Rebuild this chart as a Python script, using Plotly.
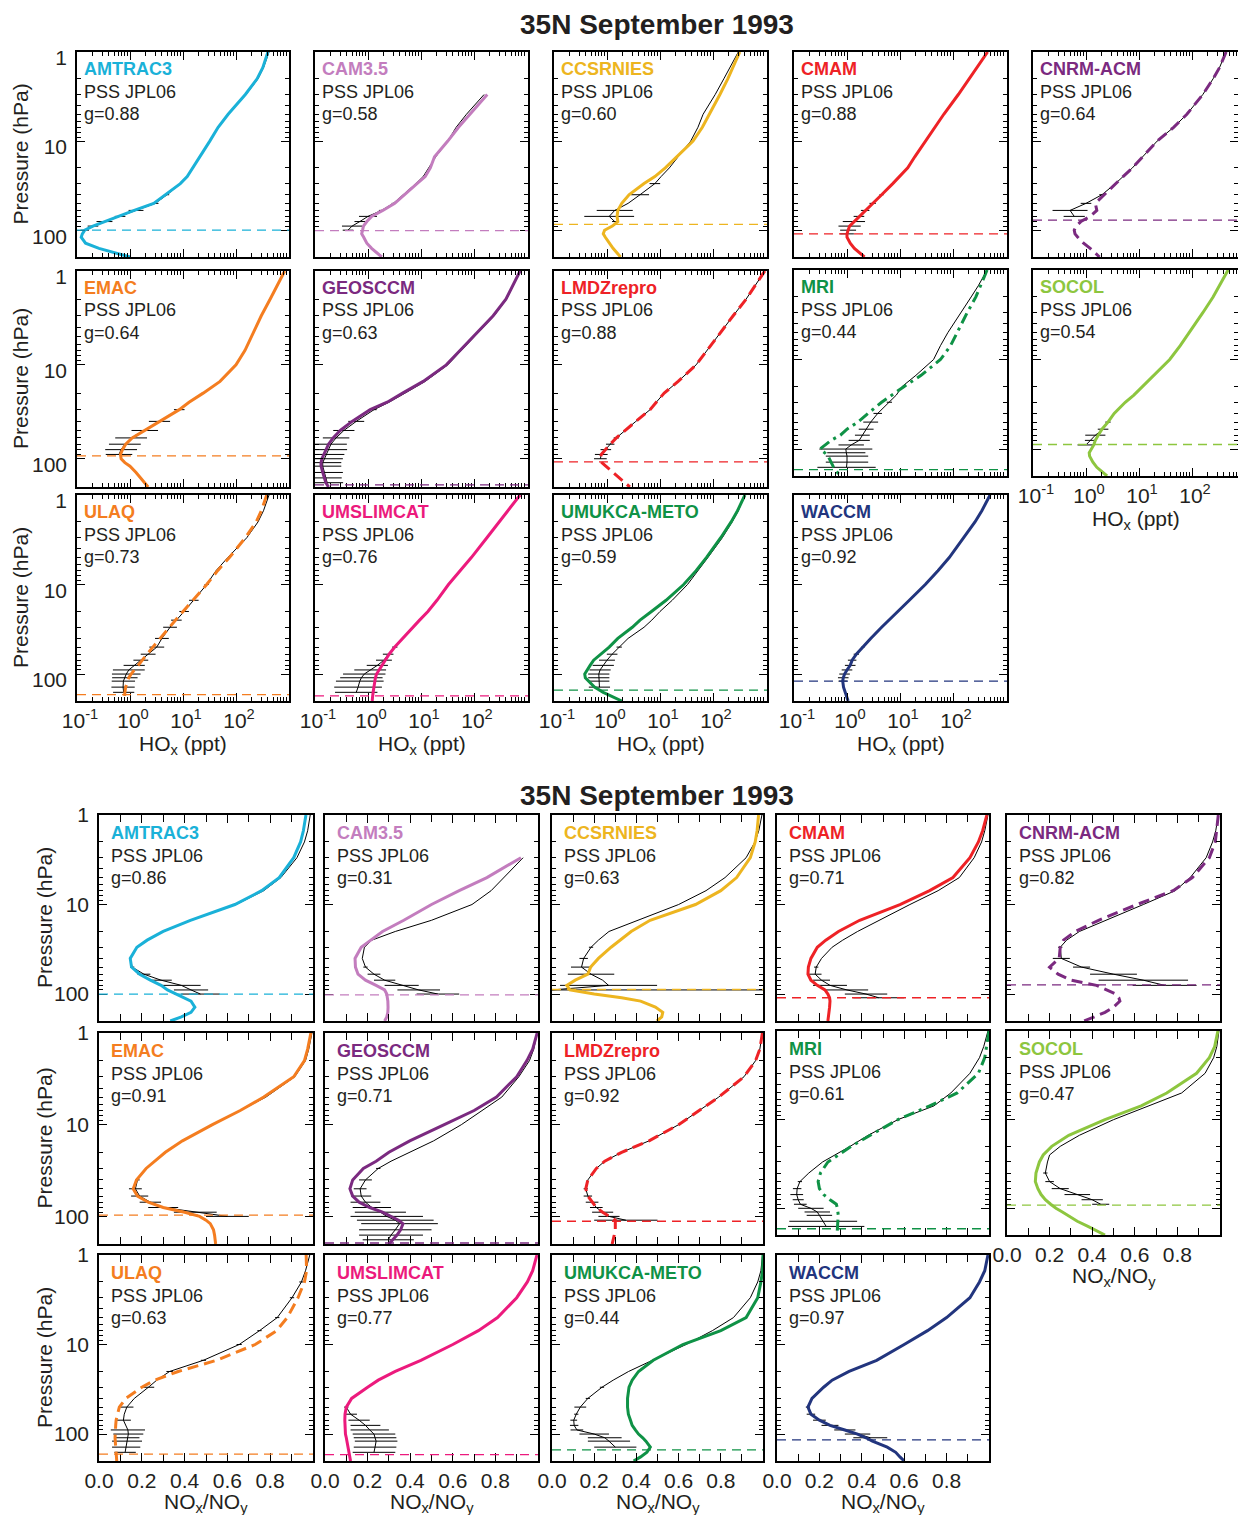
import plotly.graph_objects as go

# ---------------------------------------------------------------- data
# Model pressure levels (hPa) shared by every profile
PRESSURE = [1, 1.5, 2, 3, 5, 7, 10, 15, 20, 25, 30, 40, 50, 60, 70, 80, 90, 100,
            110, 120, 140, 160, 180, 200]

MODELS = ["AMTRAC3", "CAM3.5", "CCSRNIES", "CMAM", "CNRM-ACM", "EMAC", "GEOSCCM",
          "LMDZrepro", "MRI", "SOCOL", "ULAQ", "UMSLIMCAT", "UMUKCA-METO", "WACCM"]

N = None

# ---- HOx (ppt): model profile, PSS JPL06 profile, PSS spread (dex)
AMTRAC3_HOX = [400, 320, 250, 150, 71, 46, 32, 21, 15, 12, 8.9, 4.6, 2.8, 1.2, 0.6, 0.32, 0.2, 0.14, 0.126, 0.12, 0.145, 0.26, 0.55, 1.0]
AMTRAC3_HOX_PSS = [420, 330, 260, 155, 72, 47, 32, 21, 15, 12, 9.0, 5.0, 3.0, 1.3, 0.65, 0.33, 0.2, 0.14, N, N, N, N, N, N]
AMTRAC3_HOX_ERR = [0, 0, 0, 0, 0, 0, 0, 0, 0, 0, 0, 0.04, 0.06, 0.14, 0.1, 0.15, 0.1, 0.08, 0, 0, 0, 0, 0, 0]

CAM35_HOX = [N, N, N, 178, 83, 51, 32, 18, 15, 12, 8.4, 4.9, 3.2, 1.9, 1.17, 0.95, 0.82, 0.79, 0.76, 0.83, 0.95, 1.17, 1.48, 1.82]
CAM35_HOX_PSS = [N, N, N, 155, 72, 46, 32, 19, 14, 11, 8, 4.6, 3.0, 1.8, 1.0, 0.7, 0.5, 0.42, N, N, N, N, N, N]
CAM35_HOX_ERR = [0, 0, 0, 0, 0, 0, 0, 0, 0, 0, 0, 0, 0.03, 0.05, 0.17, 0.1, 0.19, 0.1, 0, 0, 0, 0, 0, 0]

CCSRNIES_HOX = [320, 240, 190, 135, 85, 63, 42, 21, 12.6, 8, 5, 2.6, 1.9, 1.6, 1.55, 1.6, 1.26, 0.9, 0.85, 0.93, 1.1, 1.3, 1.55, 1.8]
CCSRNIES_HOX_PSS = [300, 210, 160, 110, 65, 52, 38, 22, 15, 10.5, 8, 4.2, 2.5, 1.4, 1.1, 1.4, N, N, N, N, N, N, N, N]
CCSRNIES_HOX_ERR = [0, 0, 0, 0, 0, 0, 0, 0, 0, 0, 0.1, 0.17, 0, 0.34, 0.47, 0.05, 0, 0, 0, 0, 0, 0, 0, 0]

CMAM_HOX = [450, 280, 205, 126, 67, 45, 30, 19, 14, 10, 7.3, 4.5, 3.05, 2.2, 1.68, 1.35, 1.12, 1.05, 1.0, 1.0, 1.15, 1.38, 1.78, 2.14]
CMAM_HOX_PSS = [450, 280, 205, 126, 67, 45, 30, 19, 14, 10, 7.3, 4.5, 3.05, 2.2, 1.68, 1.35, 1.12, 1.05, 1.0, N, N, N, N, N]
CMAM_HOX_ERR = [0, 0, 0, 0, 0, 0, 0, 0, 0, 0, 0, 0.04, 0.06, 0.08, 0.1, 0.21, 0.21, 0.15, 0.13, 0, 0, 0, 0, 0]

CNRM_HOX = [440, 330, 250, 160, 80, 45, 22, 12, 7.5, 5, 3.6, 2.2, 1.5, 1.6, 1.2, 0.8, 0.65, 0.6, 0.62, 0.7, 0.9, 1.2, 1.5, 1.8]
CNRM_HOX_PSS = [440, 330, 250, 160, 80, 45, 22, 12, 7.5, 5, 3.6, 2.0, 1.0, 0.5, 0.6, N, N, N, N, N, N, N, N, N]
CNRM_HOX_ERR = [0, 0, 0, 0, 0, 0, 0, 0, 0, 0, 0, 0.05, 0.1, 0.33, 0.2, 0, 0, 0, 0, 0, 0, 0, 0, 0]

EMAC_HOX = [830, 580, 440, 300, 200, 148, 100, 50, 24, 13, 8.5, 3.6, 1.9, 1.1, 0.83, 0.72, 0.66, 0.68, 0.8, 1.0, 1.3, 1.6, 1.9, 2.2]
EMAC_HOX_PSS = [830, 580, 440, 300, 200, 148, 100, 50, 24, 13, 8.5, 3.6, 1.9, 1.05, 0.8, 0.68, 0.62, N, N, N, N, N, N, N]
EMAC_HOX_ERR = [0, 0, 0, 0, 0, 0, 0, 0, 0, 0, 0.1, 0.2, 0.25, 0.3, 0.3, 0.3, 0.25, 0, 0, 0, 0, 0, 0, 0]

GEOSCCM_HOX = [740, 520, 400, 230, 95, 55, 30, 11, 4.5, 2.3, 1.1, 0.5, 0.3, 0.22, 0.18, 0.16, 0.145, 0.135, 0.13, 0.13, 0.14, 0.15, 0.16, 0.18]
GEOSCCM_HOX_PSS = [750, 530, 410, 240, 100, 58, 32, 12, 5, 2.5, 1.3, 0.6, 0.35, 0.25, 0.2, 0.18, 0.16, 0.15, 0.14, 0.14, 0.15, 0.16, 0.17, N]
GEOSCCM_HOX_ERR = [0, 0, 0, 0, 0, 0, 0, 0, 0, 0, 0.05, 0.15, 0.2, 0.25, 0.3, 0.35, 0.35, 0.35, 0.35, 0.35, 0.35, 0.3, 0.3, 0]

LMDZ_HOX = [950, 600, 420, 240, 120, 75, 48, 22, 12, 8.5, 6.5, 3.5, 2.2, 1.5, 1.15, 0.95, 0.78, 0.75, 0.8, 0.95, 1.3, 1.7, 2.2, 2.7]
LMDZ_HOX_PSS = [950, 600, 420, 240, 120, 75, 48, 22, 12, 8.5, 6.5, 3.5, 2.2, 1.5, 1.15, 0.95, 0.78, 0.75, N, N, N, N, N, N]
LMDZ_HOX_ERR = [0, 0, 0, 0, 0, 0, 0, 0, 0, 0, 0, 0, 0.03, 0.05, 0.08, 0.1, 0.12, 0.12, 0, 0, 0, 0, 0, 0]

MRI_HOX = [440, 330, 270, 185, 120, 90, 58, 25, 12, 7, 4.5, 2.5, 1.6, 1.0, 0.75, 0.5, 0.38, 0.31, 0.38, 0.44, 0.5, 0.56, 0.65, 0.74]
MRI_HOX_PSS = [440, 300, 220, 140, 80, 58, 43, 20, 11, 8.5, 6.3, 3.8, 2.8, 2.3, 1.95, 1.7, 1.2, 0.95, 0.97, 1.0, 1.0, 0.98, N, N]
MRI_HOX_ERR = [0, 0, 0, 0, 0, 0, 0, 0, 0, 0, 0.05, 0.08, 0.14, 0.14, 0.14, 0.2, 0.24, 0.5, 0.36, 0.4, 0.4, 0.55, 0, 0]

SOCOL_HOX = [480, 330, 250, 160, 90, 60, 38, 19, 12, 8, 5.5, 3.4, 2.6, 2.0, 1.7, 1.5, 1.4, 1.25, 1.15, 1.17, 1.35, 1.6, 2.0, 2.5]
SOCOL_HOX_PSS = [480, 330, 250, 160, 90, 60, 38, 19, 12, 8, 5.5, 3.4, 2.6, 2.1, 1.5, 1.2, 1.0, N, N, N, N, N, N, N]
SOCOL_HOX_ERR = [0, 0, 0, 0, 0, 0, 0, 0, 0, 0, 0, 0, 0.05, 0.1, 0.19, 0.1, 0.16, 0, 0, 0, 0, 0, 0, 0]

ULAQ_HOX = [380, 300, 240, 150, 75, 45, 28, 15, 10, 7.2, 5.5, 3.6, 2.7, 2.1, 1.7, 1.4, 1.2, 1.05, 0.95, 0.9, 0.83, 0.8, 0.78, 0.78]
ULAQ_HOX_PSS = [420, 330, 260, 160, 70, 42, 28, 16, 10.5, 7.5, 5.7, 4.0, 3.2, 2.2, 1.6, 1.2, 0.95, 0.85, 0.8, 0.75, 0.74, 0.76, N, N]
ULAQ_HOX_ERR = [0, 0, 0, 0, 0, 0, 0.04, 0.09, 0.09, 0.1, 0.13, 0.13, 0.14, 0.14, 0.14, 0.2, 0.3, 0.27, 0.24, 0.22, 0.22, 0.2, 0, 0]

UMSLIMCAT_HOX = [740, 440, 300, 175, 89, 55, 33, 20, 13.5, 9.4, 7, 4.4, 3.2, 2.5, 2.1, 1.8, 1.6, 1.45, 1.38, 1.34, 1.3, 1.25, 1.22, 1.2]
UMSLIMCAT_HOX_PSS = [740, 440, 300, 175, 89, 55, 33, 20, 13.5, 9.4, 7, 4.4, 3.2, 2.4, 2.0, 1.5, 1.1, 0.85, 0.75, 0.7, 0.65, 0.6, N, N]
UMSLIMCAT_HOX_ERR = [0, 0, 0, 0, 0, 0, 0, 0, 0, 0, 0, 0, 0.05, 0.1, 0.15, 0.2, 0.3, 0.4, 0.4, 0.45, 0.45, 0.4, 0, 0]

UMUKCA_HOX = [400, 290, 220, 140, 75, 48, 28, 13, 6.9, 4.2, 3.0, 1.6, 1.1, 0.75, 0.56, 0.48, 0.42, 0.38, 0.39, 0.45, 0.58, 0.85, 1.3, 1.9]
UMUKCA_HOX_PSS = [400, 300, 230, 150, 80, 52, 33, 17, 10, 7, 5, 2.5, 1.7, 1.25, 1.0, 0.85, 0.74, 0.7, 0.7, 0.7, 0.72, N, N, N]
UMUKCA_HOX_ERR = [0, 0, 0, 0, 0, 0, 0, 0, 0, 0, 0, 0, 0.05, 0.1, 0.15, 0.2, 0.2, 0.2, 0.2, 0.2, 0.2, 0, 0, 0]

WACCM_HOX = [500, 350, 260, 160, 85, 52, 30, 15, 9, 6, 4.5, 2.8, 2.0, 1.5, 1.25, 1.15, 1.0, 0.9, 0.85, 0.83, 0.86, 0.92, 0.98, 1.05]
WACCM_HOX_PSS = [500, 350, 260, 160, 85, 52, 30, 15, 9, 6, 4.5, 2.8, 2.0, 1.5, 1.25, 1.15, 1.0, 0.9, 0.85, 0.83, N, N, N, N]
WACCM_HOX_ERR = [0, 0, 0, 0, 0, 0, 0, 0, 0, 0, 0, 0, 0.03, 0.05, 0.08, 0.1, 0.1, 0.1, 0.1, 0.08, 0, 0, 0, 0]

G_HOX = [0.88, 0.58, 0.60, 0.88, 0.64, 0.64, 0.63, 0.88, 0.44, 0.54, 0.73, 0.76, 0.59, 0.92]
TROP_HOX = [100, 101, 86, 110, 77, 93, 190, 108, 170, 89, 170, 175, 151, 120]

# ---- NOx/NOy ratio: model profile, PSS JPL06 profile, PSS spread
AMTRAC3_NOX = [0.967, 0.955, 0.942, 0.91, 0.842, 0.76, 0.635, 0.427, 0.3, 0.225, 0.177, 0.146, 0.152, 0.19, 0.24, 0.29, 0.32, 0.36, 0.40, 0.43, 0.448, 0.43, 0.385, 0.333]
AMTRAC3_NOX_PSS = [0.987, 0.975, 0.96, 0.925, 0.85, 0.77, 0.64, 0.43, 0.3, 0.225, 0.177, 0.146, 0.155, 0.21, 0.29, 0.385, 0.43, 0.474, N, N, N, N, N, N]
AMTRAC3_NOX_ERR = [0, 0, 0, 0, 0, 0, 0, 0, 0, 0, 0, 0.005, 0.01, 0.03, 0.05, 0.09, 0.08, 0.09, 0, 0, 0, 0, 0, 0]

CAM35_NOX = [N, N, N, 0.92, 0.76, 0.63, 0.5, 0.37, 0.27, 0.215, 0.17, 0.141, 0.143, 0.155, 0.19, 0.24, 0.28, 0.29, 0.293, 0.295, 0.296, 0.295, 0.29, 0.28]
CAM35_NOX_PSS = [N, N, N, 0.93, 0.84, 0.78, 0.69, 0.5, 0.33, 0.22, 0.185, 0.175, 0.19, 0.23, 0.28, 0.36, 0.44, 0.53, N, N, N, N, N, N]
CAM35_NOX_ERR = [0, 0, 0, 0, 0, 0, 0, 0, 0, 0, 0, 0, 0.01, 0.03, 0.05, 0.08, 0.1, 0.1, 0, 0, 0, 0, 0, 0]

CCSRNIES_NOX = [0.979, 0.972, 0.963, 0.94, 0.875, 0.8, 0.68, 0.465, 0.375, 0.32, 0.28, 0.22, 0.183, 0.17, 0.11, 0.07, 0.085, 0.2, 0.33, 0.42, 0.49, 0.525, 0.52, 0.497]
CCSRNIES_NOX_PSS = [0.995, 0.98, 0.962, 0.92, 0.82, 0.73, 0.6, 0.41, 0.27, 0.22, 0.185, 0.15, 0.14, 0.185, 0.24, 0.268, 0.0, N, N, N, N, N, N, N]
CCSRNIES_NOX_ERR = [0, 0, 0, 0, 0, 0, 0, 0, 0, 0, 0.01, 0.02, 0.05, 0.11, 0, 0.23, 1.0, 0, 0, 0, 0, 0, 0, 0]

CMAM_NOX = [0.99, 0.97, 0.95, 0.91, 0.83, 0.72, 0.58, 0.39, 0.29, 0.23, 0.19, 0.16, 0.148, 0.146, 0.16, 0.19, 0.226, 0.24, 0.248, 0.25, 0.248, 0.245, 0.242, 0.24]
CMAM_NOX_PSS = [0.995, 0.98, 0.965, 0.93, 0.86, 0.76, 0.627, 0.48, 0.38, 0.31, 0.26, 0.21, 0.185, 0.18, 0.21, 0.25, 0.33, 0.42, 0.48, N, N, N, N, N]
CMAM_NOX_ERR = [0, 0, 0, 0, 0, 0, 0, 0, 0, 0, 0, 0, 0.01, 0.03, 0.04, 0.08, 0.1, 0.1, 0.12, 0, 0, 0, 0, 0]

CNRM_NOX = [0.992, 0.985, 0.978, 0.95, 0.87, 0.78, 0.61, 0.43, 0.32, 0.265, 0.25, 0.245, 0.2, 0.24, 0.3, 0.42, 0.47, 0.51, 0.525, 0.53, 0.5, 0.46, 0.41, 0.36]
CNRM_NOX_PSS = [0.992, 0.98, 0.965, 0.935, 0.86, 0.79, 0.64, 0.46, 0.34, 0.28, 0.25, 0.255, 0.35, 0.5, 0.64, 0.74, N, N, N, N, N, N, N, N]
CNRM_NOX_ERR = [0, 0, 0, 0, 0, 0, 0, 0, 0, 0, 0.01, 0.04, 0.04, 0.11, 0.21, 0.15, 0, 0, 0, 0, 0, 0, 0, 0]

EMAC_NOX = [0.99, 0.975, 0.96, 0.91, 0.77, 0.66, 0.53, 0.39, 0.31, 0.26, 0.22, 0.175, 0.16, 0.18, 0.23, 0.3, 0.4, 0.47, 0.5, 0.52, 0.535, 0.54, 0.543, 0.545]
EMAC_NOX_PSS = [0.995, 0.98, 0.965, 0.915, 0.78, 0.66, 0.53, 0.39, 0.31, 0.26, 0.22, 0.18, 0.17, 0.19, 0.24, 0.3, 0.45, 0.6, N, N, N, N, N, N]
EMAC_NOX_ERR = [0, 0, 0, 0, 0, 0, 0, 0, 0, 0, 0, 0.01, 0.03, 0.04, 0.05, 0.07, 0.1, 0.1, 0, 0, 0, 0, 0, 0]

GEOSCCM_NOX = [0.996, 0.975, 0.948, 0.9, 0.805, 0.7, 0.56, 0.398, 0.3, 0.24, 0.18, 0.13, 0.117, 0.13, 0.16, 0.21, 0.27, 0.31, 0.345, 0.366, 0.355, 0.338, 0.318, 0.3]
GEOSCCM_NOX_PSS = [0.996, 0.98, 0.96, 0.91, 0.83, 0.74, 0.64, 0.51, 0.4, 0.31, 0.25, 0.19, 0.165, 0.17, 0.19, 0.22, 0.26, 0.29, 0.33, 0.35, 0.33, 0.31, 0.297, N]
GEOSCCM_NOX_ERR = [0, 0, 0, 0, 0, 0, 0, 0, 0, 0, 0.01, 0.03, 0.03, 0.047, 0.07, 0.09, 0.12, 0.17, 0.18, 0.18, 0.17, 0.15, 0.12, 0]

LMDZ_NOX = [0.997, 0.985, 0.965, 0.91, 0.79, 0.7, 0.6, 0.46, 0.33, 0.25, 0.21, 0.17, 0.16, 0.17, 0.19, 0.21, 0.24, 0.27, 0.3, 0.3, 0.3, 0.295, 0.29, 0.285]
LMDZ_NOX_PSS = [0.997, 0.985, 0.965, 0.91, 0.79, 0.7, 0.6, 0.46, 0.33, 0.25, 0.21, 0.17, 0.16, 0.17, 0.19, 0.21, 0.24, 0.27, 0.35, N, N, N, N, N]
LMDZ_NOX_ERR = [0, 0, 0, 0, 0, 0, 0, 0, 0, 0, 0, 0, 0.01, 0.02, 0.03, 0.03, 0.05, 0.05, 0.15, 0, 0, 0, 0, 0]

MRI_NOX = [1.0, 0.99, 0.98, 0.95, 0.85, 0.72, 0.57, 0.44, 0.35, 0.29, 0.24, 0.205, 0.194, 0.2, 0.22, 0.25, 0.28, 0.285, 0.288, 0.289, 0.287, 0.285, 0.284, 0.283]
MRI_NOX_PSS = [0.995, 0.975, 0.955, 0.91, 0.82, 0.74, 0.57, 0.43, 0.345, 0.27, 0.215, 0.15, 0.108, 0.095, 0.093, 0.1, 0.11, 0.16, 0.19, 0.2, 0.218, 0.232, N, N]
MRI_NOX_ERR = [0, 0, 0, 0, 0, 0, 0, 0, 0, 0, 0, 0, 0.01, 0.02, 0.03, 0.026, 0.03, 0.06, 0.06, 0.06, 0.16, 0.18, 0, 0]

SOCOL_NOX = [0.99, 0.975, 0.95, 0.89, 0.75, 0.63, 0.46, 0.29, 0.21, 0.17, 0.152, 0.136, 0.133, 0.145, 0.16, 0.18, 0.205, 0.23, 0.26, 0.285, 0.33, 0.38, 0.42, 0.46]
SOCOL_NOX_PSS = [0.995, 0.985, 0.97, 0.93, 0.82, 0.66, 0.5, 0.34, 0.25, 0.2, 0.19, 0.18, 0.2, 0.25, 0.33, 0.4, 0.44, N, N, N, N, N, N, N]
SOCOL_NOX_ERR = [0, 0, 0, 0, 0, 0, 0, 0, 0, 0, 0, 0.01, 0.02, 0.04, 0.06, 0.05, 0.04, 0, 0, 0, 0, 0, 0, 0]

ULAQ_NOX = [0.968, 0.97, 0.96, 0.93, 0.88, 0.83, 0.73, 0.55, 0.37, 0.26, 0.2, 0.125, 0.095, 0.086, 0.08, 0.078, 0.076, 0.075, 0.075, 0.076, 0.078, 0.08, 0.082, 0.083]
ULAQ_NOX_PSS = [0.985, 0.965, 0.946, 0.902, 0.833, 0.75, 0.655, 0.488, 0.33, 0.27, 0.231, 0.165, 0.13, 0.118, 0.114, 0.125, 0.135, 0.137, 0.134, 0.131, 0.127, 0.122, N, N]
ULAQ_NOX_ERR = [0, 0, 0.01, 0.01, 0.01, 0.01, 0.012, 0.012, 0.015, 0, 0.027, 0, 0.031, 0, 0.035, 0, 0.08, 0.07, 0.055, 0.07, 0.066, 0.05, 0, 0]

UMSLIMCAT_NOX = [0.995, 0.975, 0.95, 0.9, 0.81, 0.72, 0.6, 0.45, 0.33, 0.25, 0.2, 0.125, 0.1, 0.094, 0.093, 0.093, 0.094, 0.096, 0.1, 0.103, 0.11, 0.115, 0.118, 0.12]
UMSLIMCAT_NOX_PSS = [0.995, 0.975, 0.95, 0.9, 0.81, 0.72, 0.6, 0.45, 0.33, 0.25, 0.2, 0.125, 0.1, 0.12, 0.16, 0.19, 0.21, 0.23, 0.235, 0.24, 0.235, 0.23, N, N]
UMSLIMCAT_NOX_ERR = [0, 0, 0, 0, 0, 0, 0, 0, 0, 0, 0, 0, 0.01, 0.03, 0.05, 0.07, 0.09, 0.1, 0.1, 0.1, 0.1, 0.1, 0, 0]

UMUKCA_NOX = [1.0, 0.998, 0.99, 0.975, 0.92, 0.8, 0.62, 0.48, 0.41, 0.38, 0.365, 0.358, 0.358, 0.362, 0.372, 0.38, 0.395, 0.41, 0.43, 0.445, 0.466, 0.45, 0.42, 0.387]
UMUKCA_NOX_PSS = [0.998, 0.99, 0.975, 0.94, 0.86, 0.76, 0.635, 0.48, 0.363, 0.29, 0.237, 0.17, 0.134, 0.115, 0.103, 0.105, 0.118, 0.2, 0.25, 0.27, 0.3, N, N, N]
UMUKCA_NOX_ERR = [0, 0, 0, 0, 0, 0, 0, 0, 0, 0, 0.01, 0.01, 0.028, 0.01, 0.016, 0.02, 0.03, 0.07, 0.08, 0.1, 0.1, 0, 0, 0]

WACCM_NOX = [0.995, 0.98, 0.955, 0.91, 0.8, 0.71, 0.6, 0.47, 0.34, 0.26, 0.22, 0.165, 0.146, 0.16, 0.2, 0.25, 0.32, 0.38, 0.42, 0.45, 0.52, 0.56, 0.58, 0.6]
WACCM_NOX_PSS = [0.995, 0.98, 0.955, 0.91, 0.8, 0.71, 0.6, 0.47, 0.34, 0.26, 0.22, 0.165, 0.146, 0.16, 0.2, 0.25, 0.32, 0.38, 0.44, N, N, N, N, N]
WACCM_NOX_ERR = [0, 0, 0, 0, 0, 0, 0, 0, 0, 0, 0, 0, 0.01, 0.02, 0.03, 0.04, 0.05, 0.06, 0.08, 0, 0, 0, 0, 0]

G_NOX = [0.86, 0.31, 0.63, 0.71, 0.82, 0.91, 0.71, 0.92, 0.61, 0.47, 0.63, 0.77, 0.44, 0.97]
TROP_NOX = [100, 102, 89, 110, 79, 97, 195, 113, 170, 92, 168, 170, 150, 116]

HOX_SETS = [
    (AMTRAC3_HOX, AMTRAC3_HOX_PSS, AMTRAC3_HOX_ERR), (CAM35_HOX, CAM35_HOX_PSS, CAM35_HOX_ERR),
    (CCSRNIES_HOX, CCSRNIES_HOX_PSS, CCSRNIES_HOX_ERR), (CMAM_HOX, CMAM_HOX_PSS, CMAM_HOX_ERR),
    (CNRM_HOX, CNRM_HOX_PSS, CNRM_HOX_ERR), (EMAC_HOX, EMAC_HOX_PSS, EMAC_HOX_ERR),
    (GEOSCCM_HOX, GEOSCCM_HOX_PSS, GEOSCCM_HOX_ERR), (LMDZ_HOX, LMDZ_HOX_PSS, LMDZ_HOX_ERR),
    (MRI_HOX, MRI_HOX_PSS, MRI_HOX_ERR), (SOCOL_HOX, SOCOL_HOX_PSS, SOCOL_HOX_ERR),
    (ULAQ_HOX, ULAQ_HOX_PSS, ULAQ_HOX_ERR), (UMSLIMCAT_HOX, UMSLIMCAT_HOX_PSS, UMSLIMCAT_HOX_ERR),
    (UMUKCA_HOX, UMUKCA_HOX_PSS, UMUKCA_HOX_ERR), (WACCM_HOX, WACCM_HOX_PSS, WACCM_HOX_ERR),
]
NOX_SETS = [
    (AMTRAC3_NOX, AMTRAC3_NOX_PSS, AMTRAC3_NOX_ERR), (CAM35_NOX, CAM35_NOX_PSS, CAM35_NOX_ERR),
    (CCSRNIES_NOX, CCSRNIES_NOX_PSS, CCSRNIES_NOX_ERR), (CMAM_NOX, CMAM_NOX_PSS, CMAM_NOX_ERR),
    (CNRM_NOX, CNRM_NOX_PSS, CNRM_NOX_ERR), (EMAC_NOX, EMAC_NOX_PSS, EMAC_NOX_ERR),
    (GEOSCCM_NOX, GEOSCCM_NOX_PSS, GEOSCCM_NOX_ERR), (LMDZ_NOX, LMDZ_NOX_PSS, LMDZ_NOX_ERR),
    (MRI_NOX, MRI_NOX_PSS, MRI_NOX_ERR), (SOCOL_NOX, SOCOL_NOX_PSS, SOCOL_NOX_ERR),
    (ULAQ_NOX, ULAQ_NOX_PSS, ULAQ_NOX_ERR), (UMSLIMCAT_NOX, UMSLIMCAT_NOX_PSS, UMSLIMCAT_NOX_ERR),
    (UMUKCA_NOX, UMUKCA_NOX_PSS, UMUKCA_NOX_ERR), (WACCM_NOX, WACCM_NOX_PSS, WACCM_NOX_ERR),
]

TITLE = "35N September 1993"

# ---------------------------------------------------------------- styles
COLORS = {
    "AMTRAC3": "#1AB1D8", "CAM3.5": "#C37DBE", "CCSRNIES": "#EDB520", "CMAM": "#EE2226",
    "CNRM-ACM": "#7B2A80", "EMAC": "#F47D20", "GEOSCCM": "#7B2A80", "LMDZrepro": "#EE2226",
    "MRI": "#0F9246", "SOCOL": "#8DC63F", "ULAQ": "#F47D20", "UMSLIMCAT": "#EC1A7D",
    "UMUKCA-METO": "#0F9246", "WACCM": "#22357E",
}
DASHES = {"CNRM-ACM": "11px,6px", "LMDZrepro": "11px,6px", "ULAQ": "11px,6px",
          "MRI": "11px,5px,3px,5px"}

W, H = 1238, 1515
FONT = "Liberation Sans, Arial, Helvetica, sans-serif"
TXT = "#231F20"

# panel boxes in pixels: (left, right) per column, (top, bottom) per panel
TOP_COLS = [(77, 289), (315, 528), (554, 767), (794, 1007), (1033, 1238)]
TOP_ROWS = [(52, 257)] * 5 + [(271, 487)] * 3 + [(270, 476)] * 2 + [(495, 701)] * 4
BOT_COLS = [(99, 313), (325, 538), (552, 763), (777, 989), (1007, 1220)]
BOT_ROWS = [(815, 1021)] * 5 + [(1033, 1244)] * 3 + [(1031, 1235)] * 2 + [(1255, 1461)] * 4

Y_MAJOR = [1, 10, 100]
Y_MINOR = [2, 3, 4, 5, 6, 7, 8, 9, 20, 30, 40, 50, 60, 70, 80, 90, 200]
HOX_MAJOR = [0.1, 1, 10, 100, 1000]
HOX_TEXT = ["10<sup>-1</sup>", "10<sup>0</sup>", "10<sup>1</sup>", "10<sup>2</sup>", ""]
HOX_MINOR = [m * d for d in (0.1, 1, 10, 100) for m in range(2, 10)]
NOX_MAJOR = [0.0, 0.2, 0.4, 0.6, 0.8, 1.0]
NOX_TEXT = ["0.0", "0.2", "0.4", "0.6", "0.8", ""]
NOX_MINOR = [0.1, 0.3, 0.5, 0.7, 0.9]

fig = go.Figure()
layout = {}
annotations = []
shapes = []


def px(x):
    return x / W


def py(y):
    return 1 - y / H


def add_block(sets, g_vals, trops, cols, rows, is_hox, x_show, y_show, name_dx, name_dy,
              ytitle_x, xtitle_dy, ylabel_shift, start):
    for i, model in enumerate(MODELS):
        n = start + i
        col = i % 5 if i < 10 else i - 10
        L, R = cols[col]
        T, B = rows[i]
        suffix = "" if n == 1 else str(n)
        xa, ya = "x" + suffix, "y" + suffix
        color = COLORS[model]
        model_vals, pss_vals, spread = sets[i]

        # PSS profile with its spread
        if is_hox:
            plus = [v * (10 ** e - 1) if v is not None else 0 for v, e in zip(pss_vals, spread)]
            minus = [v * (1 - 10 ** -e) if v is not None else 0 for v, e in zip(pss_vals, spread)]
        else:
            plus = list(spread)
            minus = list(spread)
        fig.add_trace(go.Scatter(
            x=pss_vals, y=PRESSURE, xaxis=xa, yaxis=ya, mode="lines",
            line=dict(color="black", width=1),
            error_x=dict(type="data", array=plus, arrayminus=minus, symmetric=False,
                         color="black", thickness=1, width=0),
            hoverinfo="skip", showlegend=False))

        # model profile
        fig.add_trace(go.Scatter(
            x=model_vals, y=PRESSURE, xaxis=xa, yaxis=ya, mode="lines",
            line=dict(color=color, width=3, dash=DASHES.get(model, "solid")),
            hoverinfo="skip", showlegend=False))

        # tropopause
        shapes.append(dict(type="line", xref=f"{xa} domain", yref=ya, x0=0, x1=1,
                           y0=trops[i], y1=trops[i],
                           line=dict(color=color, width=1.3, dash="9px,6px"), layer="above"))

        # axes
        if is_hox:
            width_dec = 4 * (R - L) / 212.0
            xax = dict(type="log", range=[-1, -1 + width_dec], tickvals=HOX_MAJOR,
                       ticktext=HOX_TEXT, ticklabelshift=3,
                       minor=dict(tickvals=HOX_MINOR, ticks="inside", ticklen=4,
                                  tickcolor="black", tickwidth=1, showgrid=False))
        else:
            xax = dict(type="linear", range=[0, 1], tickvals=NOX_MAJOR, ticktext=NOX_TEXT,
                       minor=dict(tickvals=NOX_MINOR, ticks="inside", ticklen=7,
                                  tickcolor="black", tickwidth=1, showgrid=False))
        xax.update(domain=[px(L), px(R)], anchor=ya, showline=True, linecolor="black",
                   linewidth=1.5, mirror="ticks", ticks="inside", ticklen=8, tickwidth=1,
                   tickcolor="black", showgrid=False, zeroline=False, automargin=False,
                   showticklabels=i in x_show,
                   tickfont=dict(family=FONT, size=21, color=TXT))
        yax = dict(type="log", range=[2.30103, 0], tickvals=Y_MAJOR,
                   ticktext=[str(v) for v in Y_MAJOR],
                   minor=dict(tickvals=Y_MINOR, ticks="inside", ticklen=4,
                              tickcolor="black", tickwidth=1, showgrid=False),
                   domain=[py(B), py(T)], anchor=xa, showline=True, linecolor="black",
                   linewidth=1.5, mirror="ticks", ticks="inside", ticklen=8, tickwidth=1,
                   tickcolor="black", showgrid=False, zeroline=False, automargin=False,
                   showticklabels=i in y_show, ticklabelstandoff=4,
                   ticklabelshift=ylabel_shift,
                   tickfont=dict(family=FONT, size=21, color=TXT))
        layout["xaxis" + suffix] = xax
        layout["yaxis" + suffix] = yax

        # panel labels
        lines = [(f"<b>{model}</b>", color), ("PSS JPL06", TXT),
                 (f"g={(g_vals[i]):.2f}", TXT)]
        for k, (txt, c) in enumerate(lines):
            annotations.append(dict(
                x=px(L + name_dx), y=py(T + name_dy + 22.5 * k), xref="paper", yref="paper",
                text=txt, showarrow=False, xanchor="left", yanchor="middle",
                font=dict(family=FONT, size=18, color=c)))

        if i in y_show:
            annotations.append(dict(
                x=px(ytitle_x), y=py((T + B) / 2), xref="paper", yref="paper",
                text="Pressure (hPa)", textangle=-90, showarrow=False,
                xanchor="center", yanchor="middle",
                font=dict(family=FONT, size=21, color=TXT)))
        if i in x_show:
            annotations.append(dict(
                x=px((L + R) / 2), y=py(B + xtitle_dy), xref="paper", yref="paper",
                text="HO<sub>x</sub> (ppt)" if is_hox else "NO<sub>x</sub>/NO<sub>y</sub>",
                showarrow=False, xanchor="center", yanchor="middle",
                font=dict(family=FONT, size=21, color=TXT)))


X_SHOW = {9, 10, 11, 12, 13}
Y_SHOW = {0, 5, 10}
add_block(HOX_SETS, G_HOX, TROP_HOX, TOP_COLS, TOP_ROWS, True, X_SHOW, Y_SHOW,
          5, 17, 20, 44, -6, 1)
add_block(NOX_SETS, G_NOX, TROP_NOX, BOT_COLS, BOT_ROWS, False, X_SHOW, Y_SHOW,
          10, 18, 44, 42, 0, 15)

for ytitle in (24, 795):
    annotations.append(dict(x=px(657), y=py(ytitle), xref="paper", yref="paper",
                            text=f"<b>{TITLE}</b>", showarrow=False,
                            xanchor="center", yanchor="middle",
                            font=dict(family=FONT, size=28, color=TXT)))

fig.update_layout(width=W, height=H, autosize=False,
                  margin=dict(l=0, r=0, t=0, b=0, pad=0, autoexpand=False),
                  paper_bgcolor="white", plot_bgcolor="white",
                  annotations=annotations, shapes=shapes, **layout)

fig.write_html("out.html")
